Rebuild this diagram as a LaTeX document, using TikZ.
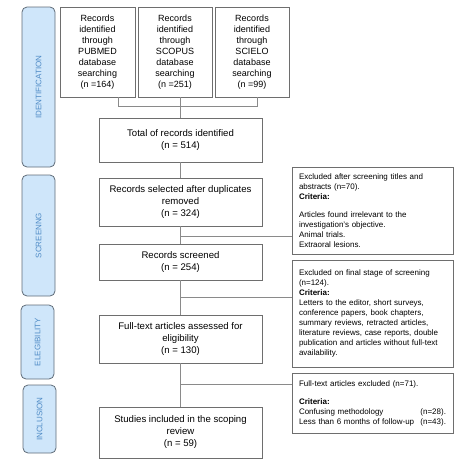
\documentclass[tikz,border=0pt]{standalone}
\usepackage{fontspec}
\setmainfont{Liberation Sans}
\usetikzlibrary{positioning,calc}

\definecolor{sidefill}{HTML}{CFE6FA}
\definecolor{sidetext}{HTML}{4F8BC6}
\definecolor{sidedraw}{HTML}{5F6B78}
\definecolor{boxdraw}{HTML}{6E6E6E}
\definecolor{linkgray}{HTML}{8A8A8A}

\newcommand{\jline}[1]{\makebox[145pt][s]{#1}}

\begin{document}
\begin{tikzpicture}[
    x=1pt, y=-1pt,
    side/.style={draw=sidedraw, fill=sidefill, rounded corners=5pt, line width=0.8pt,
                 minimum height=33pt, text=sidetext, font=\fontsize{8}{9}\selectfont,
                 rotate=90, inner sep=0pt},
    db/.style={draw=boxdraw, line width=0.8pt, minimum height=90pt, align=center,
               inner sep=1pt, font=\fontsize{9}{11}\selectfont},
    main/.style={draw=boxdraw, line width=0.8pt, minimum width=163pt, align=center,
                 inner sep=2pt, font=\fontsize{9.6}{12}\selectfont},
    excl/.style={draw=boxdraw, line width=0.8pt, text width=147pt, inner xsep=7pt,
                 align=left, font=\fontsize{8}{10}\selectfont},
    link/.style={draw=linkgray, line width=0.8pt}
  ]
  \useasboundingbox (0,0) rectangle (474,474);

  % phase labels
  \node[side, minimum width=160pt] (ident) at (38.5,87)  {IDENTIFICATION};
  \node[side, minimum width=121pt] (scr)   at (38.5,235.5) {SCREENNG};
  \node[side, minimum width=74pt]  (elig)  at (37.5,342) {ELEGIBILITY};
  \node[side, minimum width=68pt]  (incl)  at (39.5,419) {INCLUSION};

  % databases
  \node[db, minimum width=75pt] (pubmed) at (97.5,52) {Records\\identified\\through\\PUBMED\\database\\searching\\(n =164)};
  \node[db, minimum width=74pt] (scopus) at (175,52)  {Records\\identified\\through\\SCOPUS\\database\\searching\\(n =251)};
  \node[db, minimum width=74pt] (scielo) at (252,52)  {Records\\identified\\through\\SCIELO\\database\\searching\\(n =99)};

  % main flow
  \node[main, minimum height=44pt] (total)    at (180.5,140)   {Total of records identified\\(n = 514)};
  \node[main, minimum height=48pt] (selected) at (180.5,202)   {Records selected after duplicates\\removed\\(n = 324)};
  \node[main, minimum height=36pt] (screened) at (180.5,262)   {Records screened\\(n = 254)};
  \node[main, minimum height=48pt] (fulltext) at (180.5,339)   {Full-text articles assessed for\\eligibility\\(n = 130)};
  \node[main, minimum height=51pt] (included) at (180.5,432.5) {Studies included in the scoping\\review\\(n = 59)};

  % exclusions
  \node[excl, minimum height=87pt] (e1) at (372.5,210.5) {Excluded after screening titles and\\abstracts (n=70).\\\textbf{Criteria:}\\[8pt]Articles found irrelevant to the\\investigation's objective.\\Animal trials.\\Extraoral lesions.};
  \node[excl, minimum height=107pt] (e2) at (372.5,313.5) {\jline{Excluded on final stage of screening}\\(n=124).\\\textbf{Criteria:}\\\jline{Letters  to the editor, short surveys,}\\conference papers, book chapters,\\\jline{summary reviews, retracted articles,}\\\jline{literature reviews, case reports, double}\\\jline{publication and articles without full-text}\\availability.};
  \node[excl, minimum height=60pt] (e3) at (372.5,403) {Full-text articles excluded (n=71).\\[8pt]\textbf{Criteria:}\\Confusing methodology\hfill(n=28).\\Less than 6 months of follow-up\hfill(n=43).};

  \coordinate (br1) at ([yshift=-25.5pt]e1.west);
  \coordinate (br2) at ([yshift=16.5pt]e2.west);
  \coordinate (br3) at ([yshift=19pt]e3.west);

  \draw[link] ([xshift=20.5pt]pubmed.south) -- ++(0,9) -| ([xshift=5pt]scielo.south);
  \draw[link] ([xshift=5.5pt]scopus.south) -- (total.north);
  \draw[link] (total.south)    -- (selected.north);
  \draw[link] (selected.south) -- (screened.north);
  \draw[link] (screened.south) -- (fulltext.north);
  \draw[link] (fulltext.south) -- (included.north);
  \draw[link] (selected.south |- br1) -- (br1);
  \draw[link] (screened.south |- br2) -- (br2);
  \draw[link] (fulltext.south |- br3) -- (br3);
\end{tikzpicture}
\end{document}
